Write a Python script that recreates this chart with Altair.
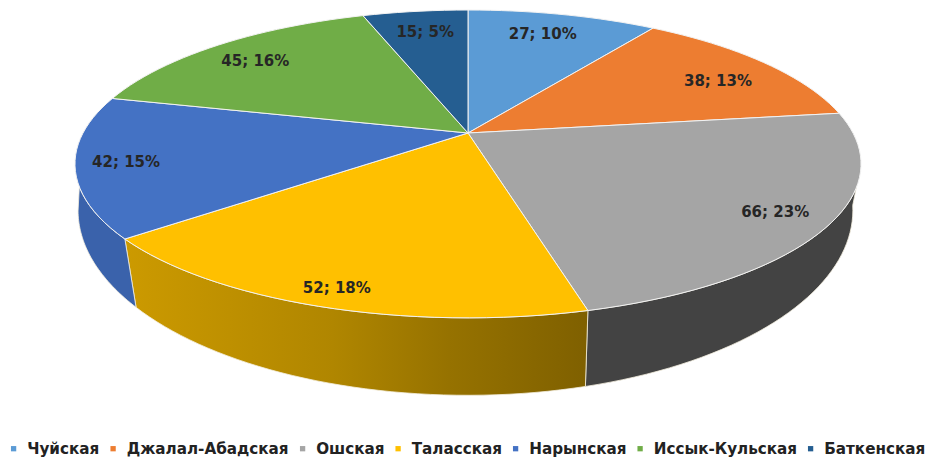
import math
import altair as alt
import pandas as pd

regions = ["Чуйская", "Джалал-Абадская", "Ошская", "Таласская", "Нарынская", "Иссык-Кульская", "Баткенская"]
values = [27, 38, 66, 52, 42, 45, 15]
percents = [10, 13, 23, 18, 15, 16, 5]
colors = ["#5B9BD5", "#ED7D31", "#A5A5A5", "#FFC000", "#4472C4", "#70AD47", "#255E91"]
label_radius = [0.806, 0.795, 0.867, 0.91, 0.875, 0.817, 0.80]
label_turn = [-0.9, 3.4, 0, -0.3, 0, -1.2, 0.2]

PERSP = 0.201
TOP = dict(cx=468, cy=133, a=385, a_left=385, b=147.7)
BOTTOM = dict(cx=468, cy=173, a=377, a_left=382, b=177.6)


def project(theta_deg, r, plane):
    t = math.radians(theta_deg)
    u, v = r * math.sin(t), r * math.cos(t)
    w = 1 + PERSP * v
    a = plane["a"] if u >= 0 else plane["a_left"]
    return plane["cx"] + a * u / w, plane["cy"] - plane["b"] * v / w


total = sum(values)
edges = [0]
for val in values:
    edges.append(edges[-1] + val * 360 / total)

slice_rows, label_rows = [], []
for i, name in enumerate(regions):
    a0, a1 = edges[i], edges[i + 1]
    cx, cy = project(0, 0, TOP)
    slice_rows.append(dict(region=name, k=0, x=cx, y=cy))
    n = max(2, int((a1 - a0) / 2))
    for j in range(n + 1):
        x, y = project(a0 + (a1 - a0) * j / n, 1, TOP)
        slice_rows.append(dict(region=name, k=j + 1, x=x, y=y))
    lx, ly = project((a0 + a1) / 2 + label_turn[i], label_radius[i], TOP)
    label_rows.append(dict(x=lx, y=ly, text=f"{values[i]}; {percents[i]}%"))


def wall(top_a, top_b, bot_a, bot_b):
    rows = []
    n = 40
    for j in range(n + 1):
        x, y = project(top_a + (top_b - top_a) * j / n, 1, TOP)
        rows.append(dict(k=j, x=x, y=y))
    for j in range(n + 1):
        x, y = project(bot_b + (bot_a - bot_b) * j / n, 1, BOTTOM)
        rows.append(dict(k=n + 1 + j, x=x, y=y))
    return pd.DataFrame(rows)


x_enc = alt.X("x:Q", scale=alt.Scale(domain=[8, 927]), axis=None)
y_enc = alt.Y("y:Q", scale=alt.Scale(domain=[457, 8]), axis=None)


def wall_layer(df, fill):
    return alt.Chart(df).mark_line(fill=fill, stroke="#F4EFE0", strokeWidth=0.8, interpolate="linear-closed").encode(
        x=x_enc, y=y_enc, order="k:Q"
    )


yellow_wall = {
    "gradient": "linear", "x1": 0, "y1": 0, "x2": 1, "y2": 0,
    "stops": [
        {"offset": 0, "color": "#CC9A00"},
        {"offset": 0.45, "color": "#B08600"},
        {"offset": 0.7, "color": "#967200"},
        {"offset": 1, "color": "#7F6000"},
    ],
}
walls = [
    wall_layer(wall(edges[2] + 28, edges[3], edges[2] + 18, edges[3]), "#434343"),
    wall_layer(wall(edges[3], edges[4], edges[3], edges[4] - 2.2), yellow_wall),
    wall_layer(wall(edges[4], edges[4] + 19, edges[4] - 2.2, edges[4] + 27), "#3A62AB"),
]

top = alt.Chart(pd.DataFrame(slice_rows)).mark_line(
    stroke="#F2F2F2", strokeWidth=1, interpolate="linear-closed", filled=True
).encode(
    x=x_enc,
    y=y_enc,
    order="k:Q",
    fill=alt.Fill(
        "region:N",
        sort=regions,
        scale=alt.Scale(domain=regions, range=colors),
        legend=alt.Legend(
            title=None, orient="none", legendX=-2, legendY=433, direction="horizontal", columns=7,
            symbolType="square", symbolSize=28, symbolStrokeWidth=0,
            labelFont="DejaVu Sans", labelFontWeight="bold", labelFontSize=15.2, labelColor="#222222",
            labelLimit=300, columnPadding=5.5, symbolOffset=0, labelOffset=6,
        ),
    ),
)

labels = alt.Chart(pd.DataFrame(label_rows)).mark_text(
    font="DejaVu Sans", fontWeight="bold", fontSize=15, color="#262626"
).encode(x=x_enc, y=y_enc, text="text:N")

chart = alt.layer(*walls, top, labels).properties(
    width=919, height=449, padding=0, autosize=alt.AutoSizeParams(type="none")
).configure_view(stroke=None)

chart.save("out.html", embed_options={"renderer": "svg", "actions": False})
